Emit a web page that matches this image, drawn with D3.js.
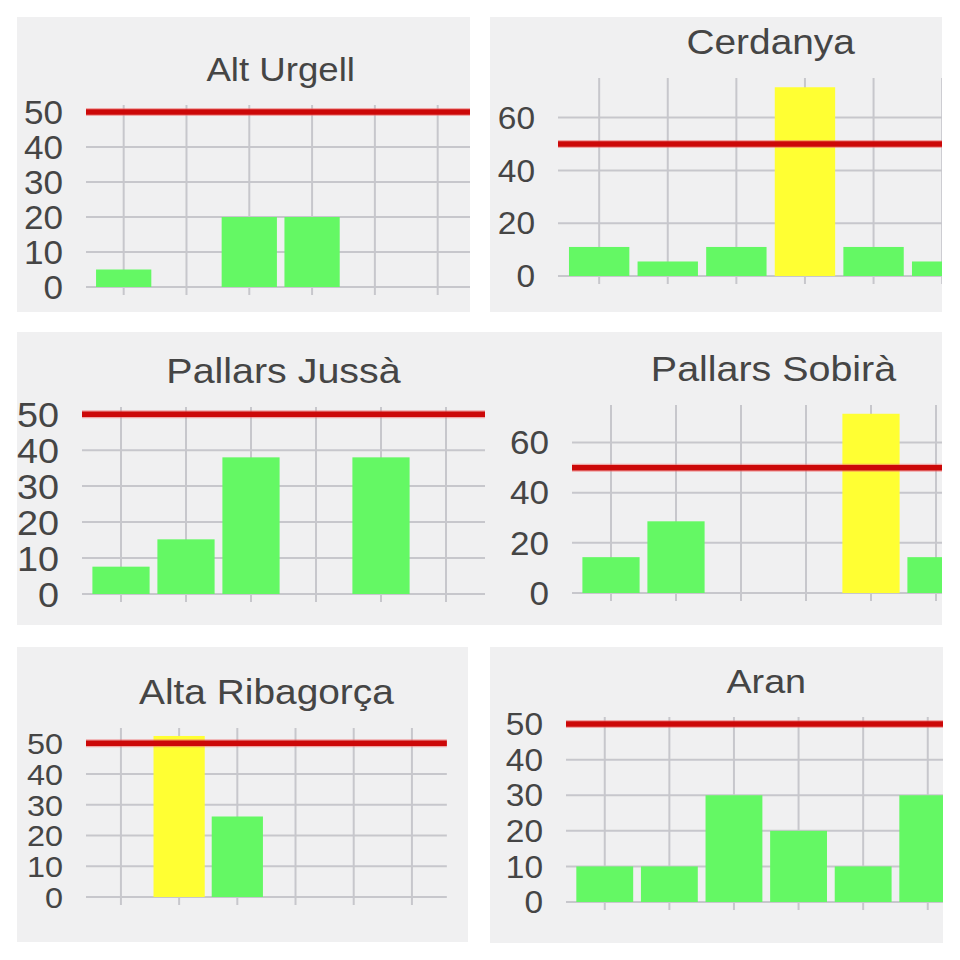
<!DOCTYPE html>
<html>
<head>
<meta charset="utf-8">
<script src="https://cdn.jsdelivr.net/npm/d3@7"></script>
<style>
  html, body { margin: 0; padding: 0; background: #ffffff; }
  svg { display: block; }
  text { font-family: "Liberation Sans", Arial, Helvetica, sans-serif; fill: #454545; }
</style>
</head>
<body>
<svg id="chart" width="960" height="960"></svg>
<script>
// ---------------- DATA ----------------
const regions = ["Alt Urgell", "Cerdanya", "Pallars Jussà", "Pallars Sobirà", "Alta Ribagorça", "Aran"];
const periods = ["1", "2", "3", "4", "5", "6"];
const altUrgell     = [5, 0, 20, 20, 0, 0];
const cerdanya      = [11, 5.5, 11, 71.5, 11, 5.5];
const pallarsJussa  = [7.6, 15.2, 38, 0, 38, 0];
const pallarsSobira = [14.3, 28.6, 0, 0, 71.5, 14.3];
const altaRibagorca = [0, 52.4, 26.2, 0, 0, 0];
const aran          = [10, 10, 30, 20, 10, 30];
const seriesValues  = [altUrgell, cerdanya, pallarsJussa, pallarsSobira, altaRibagorca, aran];
const threshold = 50;
const yDomainMax = [52, 75, 52, 75, 55, 52];

// ---------------- LAYOUT (panel frames of the collage) ----------------
const layout = [
  { clip: [17, 17, 453, 295],  left: 86,  top: 105, bottom: 287, step: 62.8, tickFs: 32.5, titleFs: 33 },
  { clip: [490, 17, 452, 295], left: 558, top: 78,  bottom: 276, step: 68.6, tickFs: 31,   titleFs: 35 },
  { clip: [17, 332, 470, 293], left: 82,  top: 407, bottom: 594, step: 65,   tickFs: 35,   titleFs: 35.5 },
  { clip: [487, 332, 455, 293],left: 572, top: 405, bottom: 593, step: 65,   tickFs: 32.5, titleFs: 35.5 },
  { clip: [17, 647, 451, 295], left: 86,  top: 728, bottom: 897, step: 58.2, tickFs: 30,   titleFs: 35 },
  { clip: [490, 647, 453, 296],left: 566, top: 717, bottom: 902, step: 64.6, tickFs: 31,   titleFs: 34 }
];

const COLORS = { bg: "#f0f0f1", grid: "#c7c7cc", green: "#64f864", yellow: "#ffff33", red: "#cc0808" };
const PAD = 0.6;

const svg = d3.select("#chart");
const defs = svg.append("defs");

regions.forEach((name, i) => {
  const L = layout[i];
  const vals = seriesValues[i];
  const [cx, cy, cw, ch] = L.clip;

  defs.append("clipPath").attr("id", "clip" + i)
    .append("rect").attr("x", cx).attr("y", cy).attr("width", cw).attr("height", ch);

  const g = svg.append("g").attr("clip-path", `url(#clip${i})`);
  g.append("rect").attr("x", cx).attr("y", cy).attr("width", cw).attr("height", ch).attr("fill", COLORS.bg);

  const plotRight = L.left + L.step * (periods.length - 1 + 2 * PAD);
  const x = d3.scalePoint().domain(periods).range([L.left, plotRight]).padding(PAD);
  const y = d3.scaleLinear().domain([0, yDomainMax[i]]).range([L.bottom, L.top]);
  const ticks = y.ticks(5);

  // horizontal grid
  g.append("g").selectAll("line").data(ticks).join("line")
    .attr("x1", L.left).attr("x2", plotRight)
    .attr("y1", d => y(d)).attr("y2", d => y(d))
    .attr("stroke", COLORS.grid).attr("stroke-width", 2);

  // vertical grid
  g.append("g").selectAll("line").data(periods).join("line")
    .attr("x1", d => x(d)).attr("x2", d => x(d))
    .attr("y1", y(yDomainMax[i])).attr("y2", y(0) + 8)
    .attr("stroke", COLORS.grid).attr("stroke-width", 2);

  // bars
  const bw = x.step() * 0.88;
  g.append("g").selectAll("rect").data(periods.map((p, k) => ({ p, v: vals[k] })).filter(d => d.v > 0)).join("rect")
    .attr("x", d => x(d.p) - bw / 2)
    .attr("y", d => y(d.v))
    .attr("width", bw)
    .attr("height", d => y(0) - y(d.v))
    .attr("fill", d => d.v > threshold ? COLORS.yellow : COLORS.green);

  // threshold line
  g.append("line")
    .attr("x1", L.left).attr("x2", plotRight)
    .attr("y1", y(threshold)).attr("y2", y(threshold))
    .attr("stroke", "#f06a6a").attr("stroke-width", 8).attr("opacity", 0.55);
  g.append("line")
    .attr("x1", L.left).attr("x2", plotRight)
    .attr("y1", y(threshold)).attr("y2", y(threshold))
    .attr("stroke", COLORS.red).attr("stroke-width", 5.5);

  // y tick labels
  g.append("g").selectAll("text").data(ticks).join("text")
    .attr("transform", d => `translate(${L.left - 23},${y(d) + L.tickFs * 0.36}) scale(1.08,1)`)
    .attr("text-anchor", "end")
    .attr("font-size", L.tickFs)
    .text(d => d);

  // title
  g.append("text")
    .attr("transform", `translate(${(L.left + plotRight) / 2},${L.top - 24}) scale(1.11,1)`)
    .attr("text-anchor", "middle")
    .attr("font-size", L.titleFs)
    .text(name);
});
</script>
</body>
</html>
